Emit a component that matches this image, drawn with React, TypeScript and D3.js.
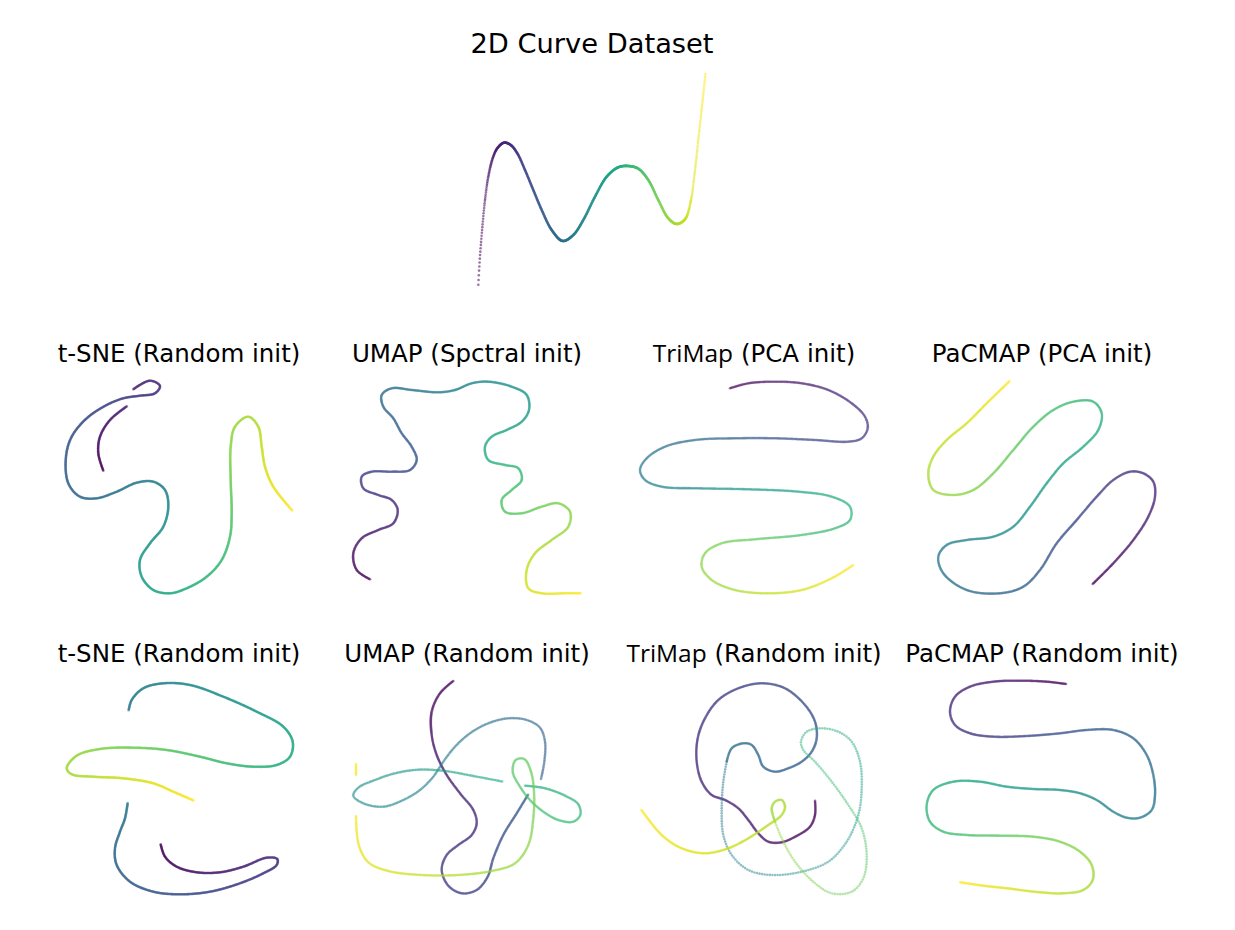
import { useEffect, useRef } from 'react';
import * as d3 from 'd3';

type Pt = [number, number];

// original 2D curve, sampled along x
const curveData: Pt[] = [
  [6.3, 7], [7.3, 25.3], [8.7, 45.3], [10.7, 68.7], [13, 92], [16.3, 115.3], [20.7, 133.7], [25.3, 143.7],
  [32, 149.3], [38.7, 147], [45.3, 138.7], [53, 122], [61.3, 102], [69.7, 82], [79.7, 62], [90.7, 51],
  [101.3, 57], [111.3, 72], [123, 95.3], [134.7, 115.3], [146.3, 124.7], [156.3, 126], [166.3, 123.3],
  [176.3, 112], [186.3, 92], [196.3, 73.7], [204.7, 68], [213, 72.7], [218.7, 90.3], [223, 122],
  [227, 158.7], [230.7, 192], [233.7, 220.3],
];

// t-SNE, row 1
const tsne1A: Pt[] = [[44.3, 131.3], [39.3, 148.7], [41, 165.3], [51, 182], [68.3, 196]];
const tsne1B: Pt[] = [
  [74.3, 212.7], [91, 221.3], [101, 216], [96, 208.7], [81, 206.3], [64.3, 203.7], [47.7, 197],
  [27.7, 183.7], [12.7, 165.3], [7, 145.3], [9.3, 118.7], [21, 105.3], [37.7, 103.7], [57.7, 110.3],
  [77.7, 119.3], [94.3, 120.3], [106, 112], [109.3, 95.3], [104.3, 75.3], [91, 58.7], [81, 42],
  [82.7, 25.3], [94.3, 12], [111, 8.7], [127.7, 13.7], [147.7, 25.3], [162.7, 42], [171, 65.3],
  [172.7, 88.7], [171.7, 122], [171.7, 155.3], [176, 175.3], [189.3, 185.3], [199.3, 175.3],
  [202.7, 155.3], [206, 135.3], [214.3, 115.3], [233.7, 91],
];

// UMAP, spectral init
const umapSpectral: Pt[] = [
  [23, 22.7], [9.7, 32], [6.3, 48.7], [14.7, 63.7], [31.3, 72], [46.3, 78.7], [50.7, 92], [44.7, 102],
  [31.3, 107], [16.3, 113.7], [14.7, 125.3], [24.7, 130.3], [44.7, 130.3], [63, 132], [69.7, 142],
  [64.7, 155.3], [54.7, 168.7], [46.3, 183.7], [36.3, 195.3], [34.7, 207], [44.7, 213.7], [64.7, 212],
  [91.3, 209.7], [108, 212], [124.7, 218.7], [141.3, 220.3], [164.7, 215.3], [179.7, 207], [182, 192],
  [174.7, 180.3], [159.7, 172], [144.7, 165.3], [138, 155.3], [141.3, 142], [158, 137], [171.3, 133.7],
  [174.7, 122], [164.7, 112], [154.7, 102], [158, 90.3], [174.7, 88.7], [194.7, 95.3], [211.3, 98.7],
  [223, 90.3], [221.3, 75.3], [204.7, 62], [188, 48.7], [179.7, 32], [181.3, 13.7], [194.7, 8.7],
  [218, 8.7], [234, 8.7],
];

// TriMap, PCA init
const trimapPca: Pt[] = [
  [96, 213.7], [114.3, 218.7], [141, 220.3], [167.7, 218.7], [194.3, 212], [217.7, 198.7], [231, 185.3],
  [233.7, 173.7], [227.7, 163.7], [214.3, 160.3], [181, 162], [141, 163.7], [101, 163.7], [61, 162],
  [31, 155.3], [12.7, 143.7], [6, 132], [11, 122], [27.7, 115.3], [64.3, 113.7], [114.3, 112.7],
  [164.3, 110.3], [197.7, 105.3], [216, 95.3], [216, 82], [201, 73.7], [167.7, 67], [121, 62.7],
  [87.7, 58.7], [71, 48.7], [67.7, 35.3], [77.7, 22], [101, 12], [134.3, 8.7], [167.7, 12],
  [197.7, 23.7], [219.3, 37],
];

// PaCMAP, PCA init
const pacmapPca: Pt[] = [
  [170.7, 18], [191.3, 38.7], [211.3, 62], [226.3, 85.3], [233, 105.3], [231.3, 120.3], [221.3, 128.7],
  [208, 130.3], [191.3, 122], [174.7, 105.3], [154.7, 82], [134.7, 58.7], [118, 32], [101.3, 15.3],
  [78, 8.7], [44.7, 12], [21.3, 28.7], [16.3, 45.3], [24.7, 57], [44.7, 62], [71.3, 65.3], [91.3, 75.3],
  [108, 95.3], [124.7, 118.7], [141.3, 138.7], [161.3, 155.3], [176.3, 172], [179.7, 188.7],
  [171.3, 200.3], [151.3, 200.3], [131.3, 192], [111.3, 175.3], [91.3, 152], [71.3, 128.7], [51.3, 112],
  [31.3, 107], [11.3, 112], [6.3, 128.7], [11.3, 145.3], [24.7, 162], [44.7, 178.7], [64.7, 198.7],
  [88, 221.3],
];

// t-SNE, row 2
const tsne2A: Pt[] = [
  [101.7, 59.7], [106, 47.3], [117.7, 37.3], [137.7, 31.7], [161, 31.7], [184.3, 37.3], [207.7, 46.3],
  [218.3, 45], [217.7, 39], [204.3, 30.7], [181, 20.7], [151, 12.3], [121, 9.7], [94.3, 12.3], [71, 22.3],
  [57.7, 39], [56, 55.7], [61, 72.3], [66, 85.7], [68.7, 101.3],
];
const tsne2B: Pt[] = [
  [69.7, 193.7], [72.7, 204], [84.3, 215.7], [104.3, 220.7], [131, 219], [164.3, 207.3], [197.7, 192.3],
  [224.3, 177.3], [233.7, 162.3], [231, 147.3], [217.7, 139], [194.3, 137.3], [167.7, 140.7],
  [141, 147.3], [107.7, 154], [74.3, 156.3], [41, 155], [17.7, 148.3], [7.7, 135.7], [12.7, 129.7],
  [34.3, 127.3], [64.3, 125.7], [94.3, 120.7], [114.3, 112.3], [135, 103.3],
];

// UMAP, random init
const umapRandA: Pt[] = [
  [106.3, 223], [93, 210.7], [84.7, 192.3], [84.7, 169], [89.7, 149], [99.7, 129], [113, 110.7],
  [126.3, 94], [129.7, 80.7], [124.7, 69], [111.3, 59], [99.7, 49], [94.7, 34], [101.3, 18.3],
  [114.7, 10.7], [129.7, 14], [140.7, 27.3], [146.3, 45.7], [156.3, 69], [169.7, 90.7], [181.3, 109.7],
];
const umapRandB: Pt[] = [
  [194, 125], [197.3, 142.3], [198, 162.3], [193, 176.3], [179.7, 184], [161.3, 185.7], [141.3, 180.7],
  [123, 170.7], [108, 157.3], [96.3, 142.3], [86.3, 127.3], [73, 114], [56.3, 104], [36.3, 97.3],
  [16.3, 100.7], [6.3, 108.3], [11.3, 116.3], [28, 124], [48, 130.7], [71.3, 134.3], [98, 133],
  [124.7, 128.3], [156.3, 122.3],
];
const umapRandC: Pt[] = [
  [178, 118.3], [198, 115.7], [218, 108.3], [231.3, 99.7], [233.3, 89], [226.3, 82.3], [211.3, 84],
  [196.3, 92.3], [183, 104], [173, 117.3], [165.7, 132.3], [168.7, 144], [177.3, 145], [184, 132.3],
  [187, 112.3], [186.3, 85.7], [181.3, 59], [168, 40.7], [144.7, 33], [111.3, 29], [74.7, 29],
  [41.3, 33], [21.3, 41.7], [12.3, 57.3], [9.7, 72.3], [9, 89],
];
const umapRandD: Pt[] = [[9, 129], [9, 140.7]];

// TriMap, random init
const trimapRandA: Pt[] = [
  [181, 103.3], [181, 89], [176, 77.3], [164.3, 69], [147.7, 61.7], [134.3, 62.3], [124.3, 70.7],
  [114.3, 84], [104.3, 95.7], [91, 104], [77.7, 109], [67.7, 122.3], [62.7, 142.3], [63.7, 165.7],
  [71, 185.7], [84.3, 204], [104.3, 215.7], [127.7, 220.7], [151, 215.7], [171, 199], [181, 182.3],
  [182.7, 165.7], [177.7, 152.3], [167.7, 142.3], [154.3, 135.7], [141, 132.3], [129.3, 137.3],
  [124.3, 149], [117.7, 159], [109.3, 160.7], [97.7, 155.7], [92.7, 142.3],
];
const trimapRandB: Pt[] = [
  [92.7, 142.3], [89.3, 122.3], [87.7, 95.7], [89.3, 69], [97.7, 49], [114.3, 34], [137.7, 29],
  [167.7, 32.3], [194.3, 42.3], [212.7, 62.3], [224.3, 89], [227.7, 115.7], [226, 142.3], [217.7, 162.3],
  [204.3, 172.3], [187.7, 175.7], [172.7, 172.3], [167, 162.3], [169.3, 154], [181, 142.3],
  [197.7, 122.3], [214.3, 99], [227.7, 75.7], [232.7, 49], [229.3, 25.7], [217.7, 12.3], [197.7, 10.7],
  [181, 20.7], [161, 42.3], [147.7, 65.7], [141, 82.3],
];
const trimapRandC: Pt[] = [
  [141, 82.3], [137.7, 95.7], [141, 102.3], [147.7, 104], [151, 97.3], [147.7, 89], [134.3, 79],
  [114.3, 65.7], [94.3, 55.7], [71, 50.7], [47.7, 55.7], [27.7, 69], [7, 94.7],
];

// PaCMAP, random init
const pacmapRand: Pt[] = [
  [144, 220], [124.7, 222.3], [98, 223.3], [71.3, 222.3], [48, 217.3], [33, 207.3], [28, 192.3],
  [33, 179], [48, 170.7], [71.3, 167.3], [104.7, 168], [138, 170.7], [164.7, 174], [191.3, 174],
  [211.3, 165.7], [224.7, 149], [231.3, 129], [233, 109], [229.7, 94], [218, 86.3], [204.7, 86.3],
  [191.3, 92.3], [174.7, 104], [158, 110.7], [138, 114], [111.3, 115], [84.7, 117.3], [58, 122.3],
  [31.3, 122.3], [11.3, 114], [4.7, 99], [8, 82.3], [21.3, 72.3], [44.7, 69], [78, 68.3], [111.3, 67.3],
  [138, 62.3], [158, 52.3], [169.7, 39], [170.7, 24], [161.3, 14], [141.3, 10.7], [118, 11.7],
  [84.7, 15.7], [61.3, 18.3], [38, 21.7],
];

const mainTitle = '2D Curve Dataset';
const panelTitles = [
  ['t-SNE', ' (Random init)'], ['UMAP', ' (Spctral init)'], ['TriMap', ' (PCA init)'], ['PaCMAP', ' (PCA init)'],
  ['t-SNE', ' (Random init)'], ['UMAP', ' (Random init)'], ['TriMap', ' (Random init)'], ['PaCMAP', ' (Random init)'],
];
const panelStrokes: Pt[][][] = [
  [tsne1A, tsne1B], [umapSpectral], [trimapPca], [pacmapPca],
  [tsne2A, tsne2B], [umapRandA, umapRandB, umapRandC, umapRandD],
  [trimapRandA, trimapRandB, trimapRandC], [pacmapRand],
];
// spacing between dots (px) for each stroke
const panelSteps: number[][] = [
  [0.7, 0.7], [0.9], [1.2], [1.0], [0.7, 0.7], [1.0, 1.5, 1.2, 1.0], [1.0, 2.6, 1.0], [1.0],
];

const cols = [179, 467, 754, 1042];
const rowBottom = [602, 904];
const rowTitleY = [362, 662];

interface Panel {
  cx: number; bottom: number; w: number; h: number;
  strokes: Pt[][]; steps: number[]; byX: boolean;
}

const panels: Panel[] = [
  { cx: 592, bottom: 292, w: 240, h: 228, strokes: [curveData], steps: [0.2], byX: true },
  ...panelStrokes.map((s, i) => ({
    cx: cols[i % 4], bottom: rowBottom[Math.floor(i / 4)], w: 240, h: 230,
    strokes: s, steps: panelSteps[i], byX: false,
  })),
];

export default function App() {
  const gRef = useRef<SVGGElement>(null);

  useEffect(() => {
    const g = d3.select(gRef.current);
    g.selectAll('*').remove();
    panels.forEach(p => {
      const x = d3.scaleLinear().domain([0, p.w]).range([p.cx - p.w / 2, p.cx + p.w / 2]);
      const y = d3.scaleLinear().domain([0, p.h]).range([p.bottom, p.bottom - p.h]);
      const line = d3.line<Pt>().x(d => x(d[0])).y(d => y(d[1])).curve(d3.curveCatmullRom.alpha(0.5));
      const tmp = g.append('g');
      const nodes = p.strokes.map(s =>
        tmp.append('path').attr('d', line(s) as string).attr('fill', 'none').node() as SVGPathElement);
      const lens = nodes.map(n => n.getTotalLength());
      const total = d3.sum(lens);
      const dots: { x: number; y: number; t: number }[] = [];

      if (p.byX) {
        // points evenly spaced in x, coloured by x
        const n = nodes[0];
        const x0 = x(p.strokes[0][0][0]);
        const x1 = x(p.strokes[0][p.strokes[0].length - 1][0]);
        const count = 900;
        let k = 0;
        for (let s = 0; s <= lens[0] && k < count; s += p.steps[0]) {
          const pt = n.getPointAtLength(s);
          while (k < count && pt.x >= x0 + (x1 - x0) * k / (count - 1)) {
            dots.push({ x: pt.x, y: pt.y, t: k / (count - 1) });
            k++;
          }
        }
      } else {
        let cum = 0;
        nodes.forEach((n, i) => {
          for (let s = 0; s <= lens[i]; s += p.steps[i]) {
            const pt = n.getPointAtLength(s);
            dots.push({ x: pt.x, y: pt.y, t: (cum + s) / total });
          }
          cum += lens[i];
        });
      }
      tmp.remove();

      g.append('g')
        .selectAll('circle')
        .data(dots)
        .join('circle')
        .attr('cx', d => d.x)
        .attr('cy', d => d.y)
        .attr('r', 1.3)
        .attr('fill', d => d3.interpolateViridis(d.t))
        .attr('fill-opacity', p.byX ? 0.55 : 0.5);
    });
  }, []);

  return (
    <svg width={1235} height={930} style={{ position: 'absolute', left: 0, top: 0, background: '#fff' }}
      fontFamily="DejaVu Sans">
      <text x={592} y={53} textAnchor="middle" fontSize={27.3} fill="#000">{mainTitle}</text>
      {panelTitles.map((t, i) => (
        <text key={i} x={cols[i % 4]} y={rowTitleY[Math.floor(i / 4)]} textAnchor="middle" fontSize={24.5} fill="#000">
          <tspan fontFamily={t[0] === 'TriMap' ? 'Open Sans' : 'DejaVu Sans'}>{t[0]}</tspan>
          <tspan>{t[1]}</tspan>
        </text>
      ))}
      <g ref={gRef} />
    </svg>
  );
}
